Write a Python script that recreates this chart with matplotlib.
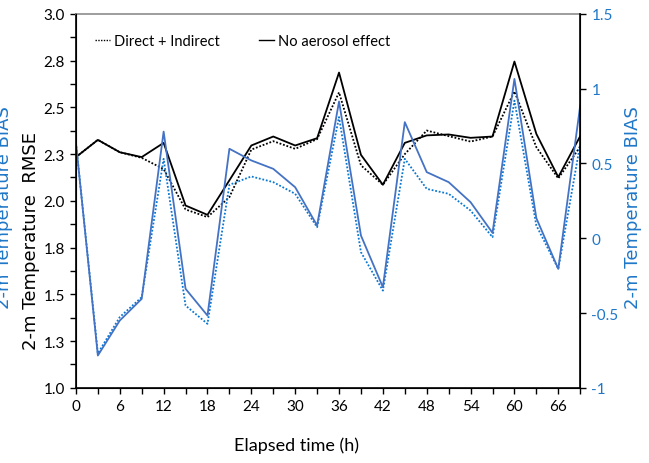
import numpy as np
import matplotlib
matplotlib.use("Agg")
from matplotlib import pyplot as plt
from matplotlib.lines import Line2D
from matplotlib.ticker import MultipleLocator

# * Data

hours = np.arange(0, 70, 3)

rmse_none = [2.234, 2.326, 2.26, 2.234, 2.31, 1.975, 1.925, 2.11, 2.296, 2.344,
             2.296, 2.335, 2.686, 2.246, 2.086, 2.31, 2.35, 2.355, 2.337, 2.344,
             2.745, 2.358, 2.127, 2.346]
rmse_aer = [2.234, 2.326, 2.26, 2.23, 2.17, 1.954, 1.913, 2.02, 2.274, 2.319,
            2.278, 2.33, 2.58, 2.19, 2.086, 2.25, 2.376, 2.346, 2.317, 2.344,
            2.585, 2.287, 2.12, 2.29]

bias_none = [0.638, -0.784, -0.55, -0.405, 0.713, -0.338, -0.517, 0.598, 0.52,
             0.464, 0.341, 0.085, 0.914, 0.018, -0.327, 0.776, 0.442, 0.375,
             0.241, 0.036, 1.065, 0.134, -0.205, 0.887]
bias_aer = [0.638, -0.77, -0.527, -0.394, 0.531, -0.45, -0.572, 0.357, 0.413,
            0.375, 0.297, 0.074, 0.81, -0.093, -0.35, 0.531, 0.33, 0.297,
            0.185, 0.007, 0.92, 0.085, -0.205, 0.63]

rmse_ticks = [1.0, 1.25, 1.5, 1.75, 2.0, 2.25, 2.5, 2.75, 3.0]
rmse_labels = ["1.0", "1.3", "1.5", "1.8", "2.0", "2.3", "2.5", "2.8", "3.0"]
bias_ticks = [-1, -0.5, 0, 0.5, 1, 1.5]
bias_labels = ["-1", "-0.5", "0", "0.5", "1", "1.5"]
x_ticks = list(range(0, 67, 6))

# * Plotting

narrow = ["Liberation Sans Narrow", "Lato", "DejaVu Sans"]
blue_txt = "#1F77C8"

fig = plt.figure(figsize=(6.49, 4.64), dpi=100)
ax = fig.add_axes([0.117, 0.162, 0.777, 0.806])
ax2 = ax.twinx()

ax.plot(hours, rmse_aer, color="black", linestyle=(0, (1, 1)), linewidth=1.3)
ax.plot(hours, rmse_none, color="black", linestyle="-", linewidth=1.3)
ax2.plot(hours, bias_aer, color="#0A78D0", linestyle=(0, (1, 1)), linewidth=1.3)
ax2.plot(hours, bias_none, color="#4472C4", linestyle="-", linewidth=1.3)

ax.set_xlim(0, 69)
ax.set_ylim(1.0, 3.0)
ax2.set_ylim(-1, 1.5)

ax.set_xticks(x_ticks)
ax.set_xticklabels([str(v) for v in x_ticks], fontfamily=narrow, fontsize=11)
ax.xaxis.set_minor_locator(MultipleLocator(3))
ax.set_yticks(rmse_ticks)
ax.set_yticklabels(rmse_labels, fontfamily=narrow, fontsize=11)
ax.yaxis.set_minor_locator(MultipleLocator(0.125))
ax2.set_yticks(bias_ticks)
ax2.set_yticklabels(bias_labels, fontfamily=narrow, fontsize=11, color=blue_txt)

ax.tick_params(which="both", direction="out", length=4, width=1, pad=4)
ax2.tick_params(which="both", direction="out", length=4, width=1, pad=4)

ax.spines["top"].set_color("#8C8C8C")
ax.spines["top"].set_linewidth(1.2)
ax2.spines["top"].set_visible(False)
for s in ["left", "bottom"]:
    ax.spines[s].set_linewidth(1.2)
ax2.spines["right"].set_linewidth(1.2)

ax.set_xlabel("Elapsed time (h)", fontfamily=narrow, fontsize=13)
ax.xaxis.set_label_coords(0.437, -0.13)
ax.set_ylabel("2-m Temperature  RMSE", fontsize=13)
ax.yaxis.set_label_coords(-0.071, 0.396)
ax2.set_ylabel("2-m Temperature BIAS", fontsize=13, color=blue_txt)
ax2.yaxis.set_label_coords(1.086, 0.484)
fig.text(0.006, 0.552, "2-m Temperature BIAS", rotation=90, fontsize=13,
         color=blue_txt, ha="center", va="center")

handles = [Line2D([], [], color="black", linestyle=(0, (1, 1)), linewidth=1),
           Line2D([], [], color="black", linestyle="-", linewidth=1)]
ax.legend(handles, ["Direct + Indirect", "No aerosol effect"], ncol=2,
          frameon=False, loc="upper left", bbox_to_anchor=(0.012, 0.98),
          handlelength=1.0, handletextpad=0.3, columnspacing=2.7,
          prop={"family": narrow, "size": 10.5})

fig.savefig("out.png", dpi=100)
